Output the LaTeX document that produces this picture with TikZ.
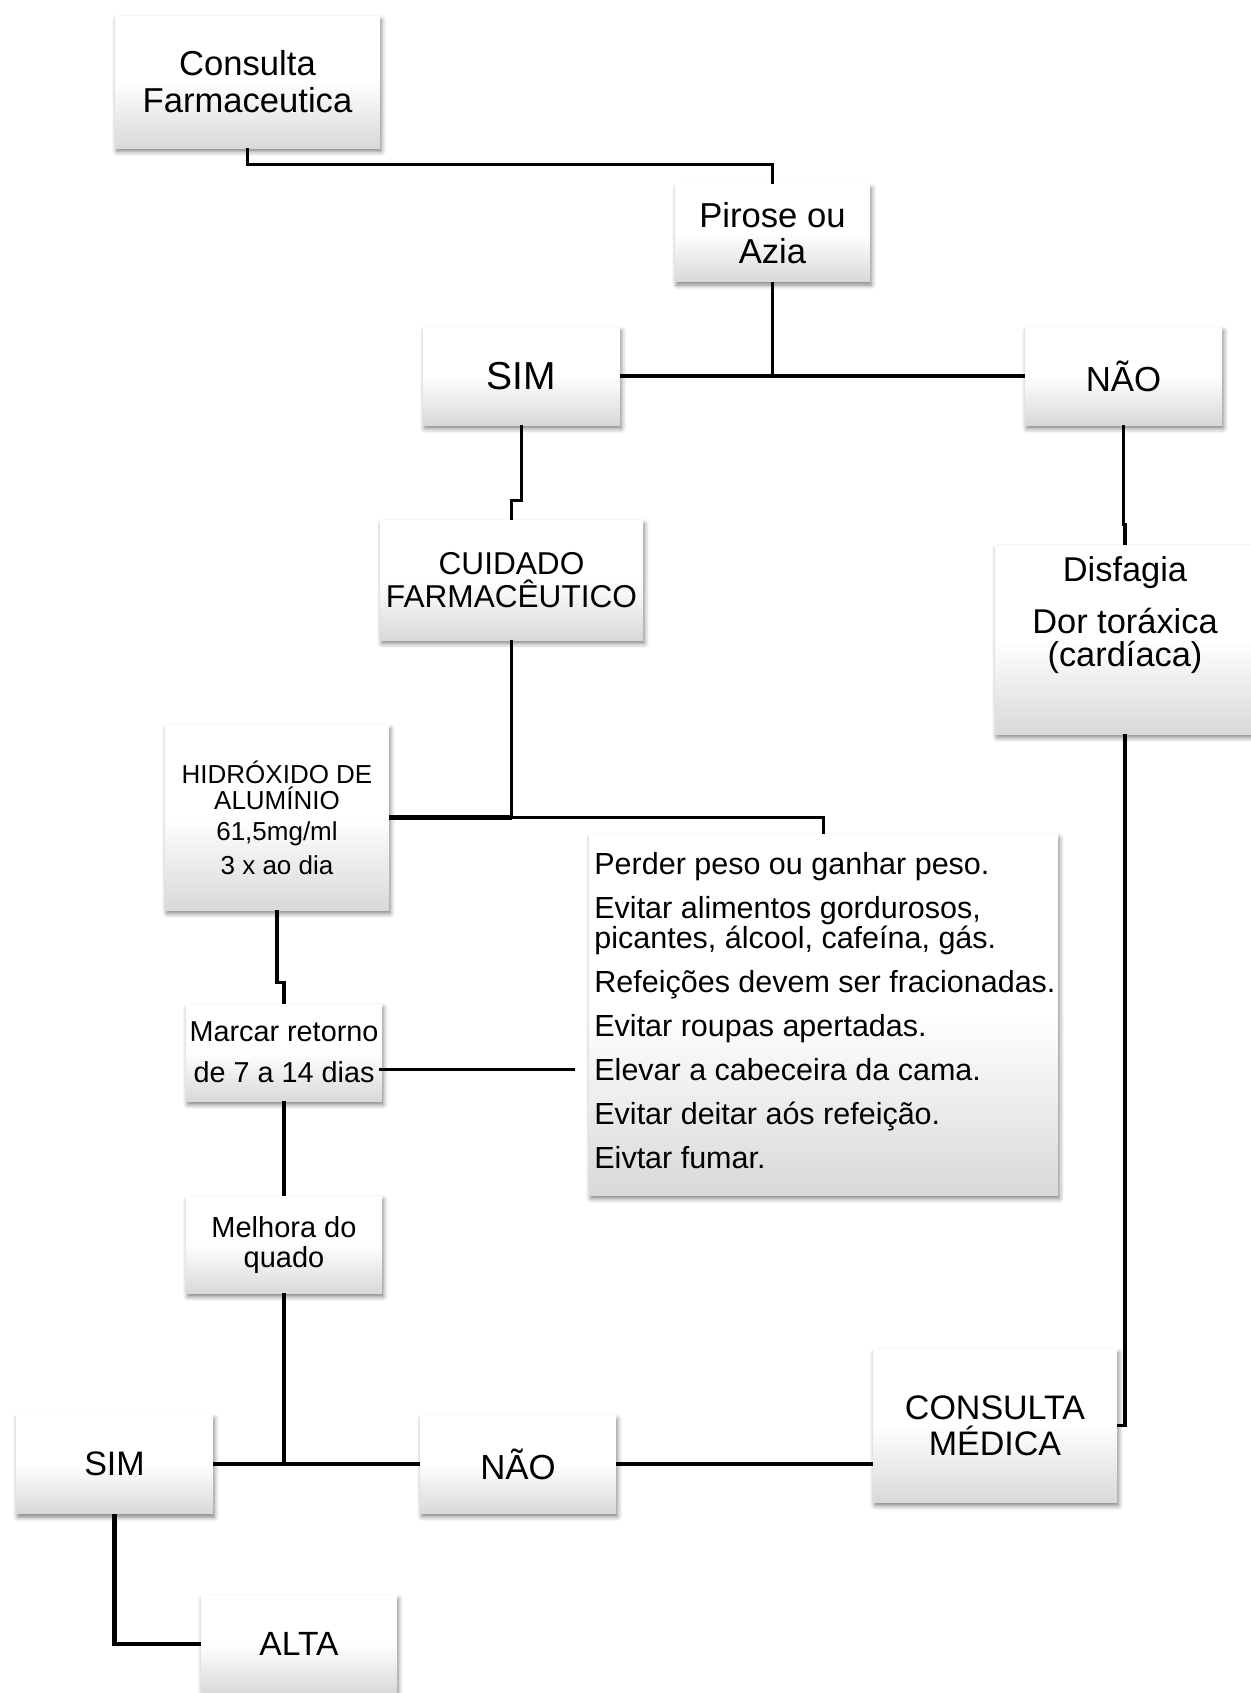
\documentclass[tikz,border=0pt]{standalone}
\usepackage{fontspec}
\setmainfont{Liberation Sans}
\usetikzlibrary{calc,shadows.blur}
\newcommand\setfs[2]{\fontsize{#1}{#2}\selectfont}
\tikzset{
  card/.style={rectangle, inner sep=0pt, align=center,
    top color=white, bottom color=black!15, middle color=white,
    blur shadow={shadow xshift=0.8pt, shadow yshift=-1.8pt,
      shadow blur radius=2.2pt, shadow opacity=50}},
  plaintext/.style={inner sep=0pt},
  link/.style={line width=1.8pt, black},
  heavylink/.style={line width=2.3pt, black},
}
\begin{document}
\begin{tikzpicture}[x=0.5pt,y=-0.5pt]
\useasboundingbox (0,0) rectangle (1250,1693);

% boxes
\node[card, minimum width=132.5pt, minimum height=66pt, font={\setfs{17.3pt}{18.5pt}}]
  (cf) at (247.5,82) {Consulta\\Farmaceutica};
\node[card, minimum width=97.5pt, minimum height=48.5pt, font={\setfs{17.3pt}{18pt}}]
  (pa) at (772.5,233) {Pirose ou\\Azia};
\node[card, minimum width=98.5pt, minimum height=49pt, font={\setfs{19.5pt}{22pt}}]
  (sim1) at (521.5,376) {SIM};
\node[card, minimum width=98.5pt, minimum height=49pt, font={\setfs{17.4pt}{20pt}}]
  (nao1) at (1123.5,376) {NÃO};
\node[card, minimum width=131.5pt, minimum height=60pt, font={\setfs{15.8pt}{16.7pt}}]
  (cuid) at (511.5,580) {CUIDADO\\FARMACÊUTICO};
\node[card, minimum width=130pt, minimum height=94.5pt]
  (disf) at (1125,639.5) {};
\node[plaintext, align=center, anchor=north, font={\setfs{17.2pt}{16.5pt}}]
  (disftxt) at (1125,556) {Disfagia\\[9.5pt]Dor toráxica\\(cardíaca)};
\node[card, minimum width=112pt, minimum height=92.5pt, font={\setfs{13pt}{13pt}}]
  (hidr) at (277,817.5) {HIDRÓXIDO DE\\ALUMÍNIO\\[2.5pt]61,5mg/ml\\[4pt]3 x ao dia};
\node[card, minimum width=98pt, minimum height=48.5pt, font={\setfs{14.4pt}{20.5pt}}]
  (marc) at (284,1052.5) {Marcar retorno\\de 7 a 14 dias};
\node[card, minimum width=234.5pt, minimum height=180.5pt]
  (list) at (823.5,1014.5) {};
\node[plaintext, align=left, anchor=north west, font={\setfs{15.25pt}{15pt}}]
  (listtxt) at (594,852) {Perder peso ou ganhar peso.\\[7pt]
    Evitar alimentos gordurosos,\\picantes, álcool, cafeína, gás.\\[7pt]
    Refeições devem ser fracionadas.\\[7pt]
    Evitar roupas apertadas.\\[7pt]
    Elevar a cabeceira da cama.\\[7pt]
    Evitar deitar aós refeição.\\[7pt]
    Eivtar fumar.};
\node[card, minimum width=98pt, minimum height=48.5pt, font={\setfs{14.5pt}{15pt}}]
  (melh) at (284,1244.5) {Melhora do\\quado};
\node[card, minimum width=98.5pt, minimum height=49.5pt, font={\setfs{17pt}{20pt}}]
  (sim2) at (114.5,1464) {SIM};
\node[card, minimum width=98pt, minimum height=49pt, font={\setfs{17.4pt}{20pt}}]
  (nao2) at (518,1464) {NÃO};
\node[card, minimum width=98pt, minimum height=49pt, font={\setfs{16.8pt}{20pt}}]
  (alta) at (299,1644) {ALTA};
\node[card, minimum width=122pt, minimum height=76.5pt, font={\setfs{17pt}{18pt}}]
  (cmed) at (995,1425.5) {CONSULTA\\MÉDICA};

% connectors
\draw[link] (cf.south) -- ++(0,16) -| (pa.north);
\draw[link] (sim1.east) -- (nao1.west);
\draw[link] (pa.south) -- (pa.south |- sim1.east);
\draw[link] (sim1.south) -- ++(0,75) -| (cuid.north);
\draw[link] (nao1.south) -- ++(0,99) -| (disf.north);
\coordinate (hj) at (hidr.east -| cuid.south);
\draw[link] (cuid.south) -- (hj);
\draw[heavylink] (hidr.east) -- (hj);
\draw[link] (hj) -| (list.north);
\draw[link] (hidr.south) -- ++(0,72) -| (marc.north);
\coordinate (mr) at ($(marc.east)+(-3,17)$);
\coordinate (mrend) at ($(mr -| list.west)+(-14,0)$);
\draw[link] (mr) -- (mrend);
\draw[link] (marc.south) -- (melh.north);
\coordinate (mj) at (melh.south |- sim2.east);
\draw[link] (melh.south) -- (mj);
\draw[heavylink] (sim2.east) -- (mj);
\draw[link] (mj) -- (nao2.west);
\draw[link] (nao2.east) -- (nao2.east -| cmed.west);
\draw[link] (disf.south) |- (cmed.east);
\draw[heavylink] (sim2.south) |- (alta.west);
\end{tikzpicture}
\end{document}
